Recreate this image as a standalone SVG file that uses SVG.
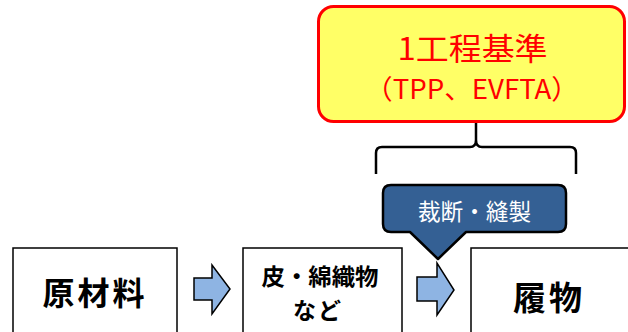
<svg xmlns="http://www.w3.org/2000/svg" width="628" height="332" viewBox="0 0 628 332">
  <defs>
    <style>
      .box { fill: #ffffff; stroke: #000000; stroke-width: 1.5; }
      .arrow { fill: #8EB4E3; stroke: #000000; stroke-width: 1.5; stroke-linejoin: miter; }
      .jp { font-family: "Noto Sans CJK JP", "Noto Sans", sans-serif; }
      .lbl { font-weight: 700; fill: #000000; text-anchor: middle; }
      .red { fill: #FF0000; text-anchor: middle; }
    </style>
  </defs>
  <rect width="628" height="332" fill="#ffffff"/>

  <g id="rule-box">
    <rect x="318.5" y="6.5" width="306" height="115" rx="15" ry="15" fill="#FFFF66" stroke="#FF0000" stroke-width="3"/>
    <text class="jp red" x="472.5" y="60" font-size="31" textLength="150" lengthAdjust="spacingAndGlyphs">1工程基準</text>
    <text class="jp red" x="472" y="99" font-size="27" textLength="214" lengthAdjust="spacingAndGlyphs">（TPP、EVFTA）</text>
  </g>

  <g id="connectors">
    <path d="M376,174 V153 Q376,147 382,147 H470 Q476,147 476,140 Q476,147 482,147 H570 Q576,147 576,153 V174 M476,140 V123" fill="none" stroke="#000000" stroke-width="2.5"/>
    <path class="arrow" d="M194,278 H212 V265 L230,289 L212,314 V300 H194 Z"/>
    <path class="arrow" d="M417,277 H437 V263 L454,290 L437,315 V301 H417 Z"/>
  </g>

  <g id="callout">
    <path d="M391,185 H558 Q566,185 566,193 V224 Q566,232 558,232 H466 L438,259 L410,232 H391 Q383,232 383,224 V193 Q383,185 391,185 Z" fill="#346094" stroke="#000000" stroke-width="2.5" stroke-linejoin="round"/>
    <text class="jp" x="474.5" y="220" font-size="23" fill="#ffffff" text-anchor="middle" textLength="113" lengthAdjust="spacingAndGlyphs">裁断・縫製</text>
  </g>

  <g id="node-raw">
    <rect class="box" x="13" y="248" width="164" height="100"/>
    <text class="jp lbl" x="95" y="305" font-size="32" letter-spacing="3">原材料</text>
  </g>

  <g id="node-material">
    <rect class="box" x="243" y="248" width="159" height="100"/>
    <text class="jp lbl" x="320" y="285" font-size="23" textLength="117" lengthAdjust="spacingAndGlyphs">皮・綿織物</text>
    <text class="jp lbl" x="318" y="319" font-size="23" letter-spacing="2">など</text>
  </g>

  <g id="node-footwear">
    <rect class="box" x="471" y="248" width="170" height="100"/>
    <text class="jp lbl" x="549" y="310" font-size="33" letter-spacing="3">履物</text>
  </g>
</svg>
